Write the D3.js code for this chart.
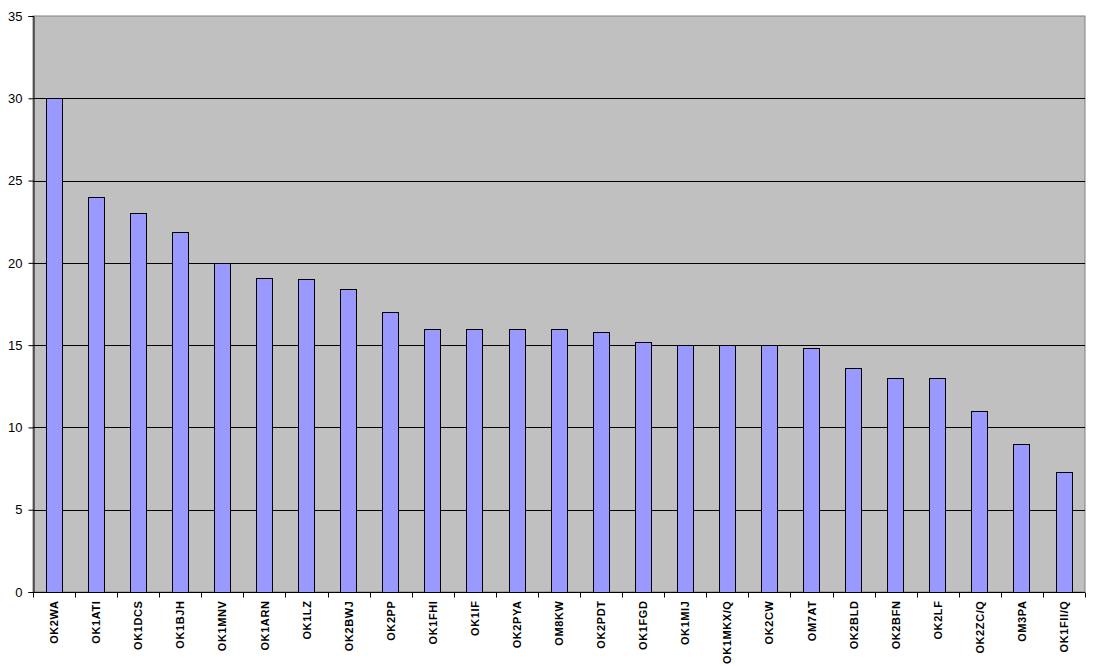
<!DOCTYPE html>
<html><head><meta charset="utf-8">
<script src="https://cdn.jsdelivr.net/npm/d3@7"></script>
<style>body{margin:0;background:#fff}</style>
</head><body>
<svg id="c" width="1094" height="666"></svg>
<script>
const categories = ["OK2WA","OK1ATI","OK1DCS","OK1BJH","OK1MNV","OK1ARN","OK1LZ","OK2BWJ","OK2PP","OK1FHI","OK1IF","OK2PYA","OM8KW","OK2PDT","OK1FGD","OK1MIJ","OK1MKX/Q","OK2CW","OM7AT","OK2BLD","OK2BFN","OK2LF","OK2ZC/Q","OM3PA","OK1FII/Q"];
const values = [30,24,23,21.9,20,19.1,19,18.4,17,16,16,16,16,15.8,15.2,15,15,15,14.8,13.6,13,13,11,9,7.3];
const yTicks = [0,5,10,15,20,25,30,35];

const svg = d3.select("#c");
const m = {left:33, top:16, right:1085, bottom:592};
const x = d3.scaleBand().domain(categories).range([m.left, m.right]).paddingInner(0.6).paddingOuter(0.3);
const y = d3.scaleLinear().domain([0,35]).range([m.bottom, m.top]);

svg.append("rect").attr("x",m.left).attr("y",m.top).attr("width",m.right-m.left).attr("height",m.bottom-m.top)
  .attr("fill","#C0C0C0").attr("stroke","#808080").attr("stroke-width",1);

svg.append("g").selectAll("line").data(yTicks.filter(d=>d>0 && d<35)).join("line")
  .attr("x1",m.left).attr("x2",m.right).attr("y1",d=>Math.round(y(d))+0.5).attr("y2",d=>Math.round(y(d))+0.5)
  .attr("stroke","#000").attr("stroke-width",1);

svg.append("g").selectAll("rect").data(values).join("rect")
  .attr("x",(d,i)=>Math.round(x(categories[i]))+0.5)
  .attr("y",d=>Math.round(y(d))+0.5)
  .attr("width",16)
  .attr("height",d=>m.bottom-Math.round(y(d)))
  .attr("fill","#9999FF").attr("stroke","#000").attr("stroke-width",1);

// y axis
const ya = svg.append("g").attr("transform",`translate(${m.left+0.5},0)`)
  .call(d3.axisLeft(y).tickValues(yTicks).tickSize(5).tickPadding(6));
ya.select(".domain").attr("stroke","#000");
ya.selectAll("text").attr("font-family","Arial, 'Liberation Sans', sans-serif").attr("font-size","13px").attr("fill","#000");

// x axis
const xa = svg.append("g").attr("transform",`translate(0,${m.bottom+0.5})`);
xa.append("line").attr("x1",m.left).attr("x2",m.right).attr("stroke","#000");
xa.selectAll("line.t").data(d3.range(categories.length+1)).join("line").attr("class","t")
  .attr("x1",i=>Math.round(m.left+i*(m.right-m.left)/categories.length)+0.5)
  .attr("x2",i=>Math.round(m.left+i*(m.right-m.left)/categories.length)+0.5)
  .attr("y1",0).attr("y2",5).attr("stroke","#000");
xa.selectAll("text").data(categories).join("text")
  .attr("transform",d=>`translate(${x(d)+8+4.5},8) rotate(-90)`)
  .attr("text-anchor","end")
  .attr("font-family","Arial, 'Liberation Sans', sans-serif").attr("font-size","11px").attr("font-weight","bold")
  .attr("letter-spacing","0.6px")
  .text(d=>d);
</script>
</body></html>
